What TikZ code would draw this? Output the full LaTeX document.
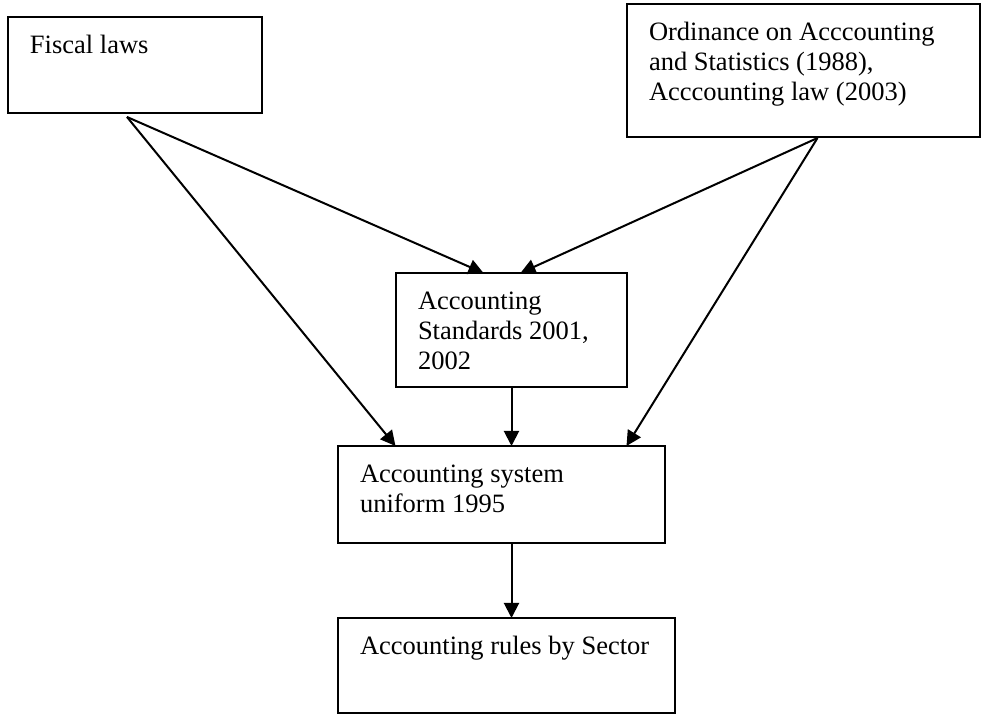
\documentclass[tikz,border=0pt]{standalone}
\usepackage{fontspec}
\setmainfont{Liberation Serif}
\usetikzlibrary{arrows.meta}
\tikzset{
  box/.style={draw, line width=1.3pt, anchor=north west, outer sep=0pt,
    inner xsep=11pt, inner ysep=8pt, font=\fontsize{13.25pt}{15pt}\selectfont},
  link/.style={-{Triangle[length=7.5pt,width=7.5pt]}, line width=1pt},
}
\newcommand{\boxtext}[3]{\parbox[t][#2][t]{#1}{\strut #3}}
\begin{document}
\begin{tikzpicture}[x=0.5pt,y=-0.5pt]
    \useasboundingbox (0,0) rectangle (982,715);
    \node[box] (fiscal) at (8,17) {\boxtext{105pt}{32pt}{Fiscal laws}};
    \node[box] (ordinance) at (627,4) {\boxtext{154.5pt}{50.5pt}{Ordinance on Acccounting\\and Statistics (1988),\\Acccounting law (2003)}};
    \node[box] (standards) at (396,273) {\boxtext{93.5pt}{41pt}{Accounting\\Standards 2001,\\2002}};
    \node[box] (system) at (338,446) {\boxtext{141.5pt}{32.5pt}{Accounting system\\uniform 1995}};
    \node[box] (rules) at (338,618) {\boxtext{146.5pt}{31.5pt}{Accounting rules by Sector}};
    % arrows
    \draw[link] ([shift={(-8,4)}]fiscal.south) -- ([shift={(-28,0)}]standards.north);
    \draw[link] ([shift={(-8,4)}]fiscal.south) -- ([shift={(-106,0)}]system.north);
    \draw[link] ([shift={(14,1)}]ordinance.south) -- ([shift={(9,0)}]standards.north);
    \draw[link] ([shift={(14,1)}]ordinance.south) -- ([shift={(125,0)}]system.north);
    \draw[link] (standards.south) -- (standards.south |- system.north);
    \draw[link] ([shift={(10,0)}]system.south) -- ([shift={(10,0)}]system.south |- rules.north);
\end{tikzpicture}
\end{document}
